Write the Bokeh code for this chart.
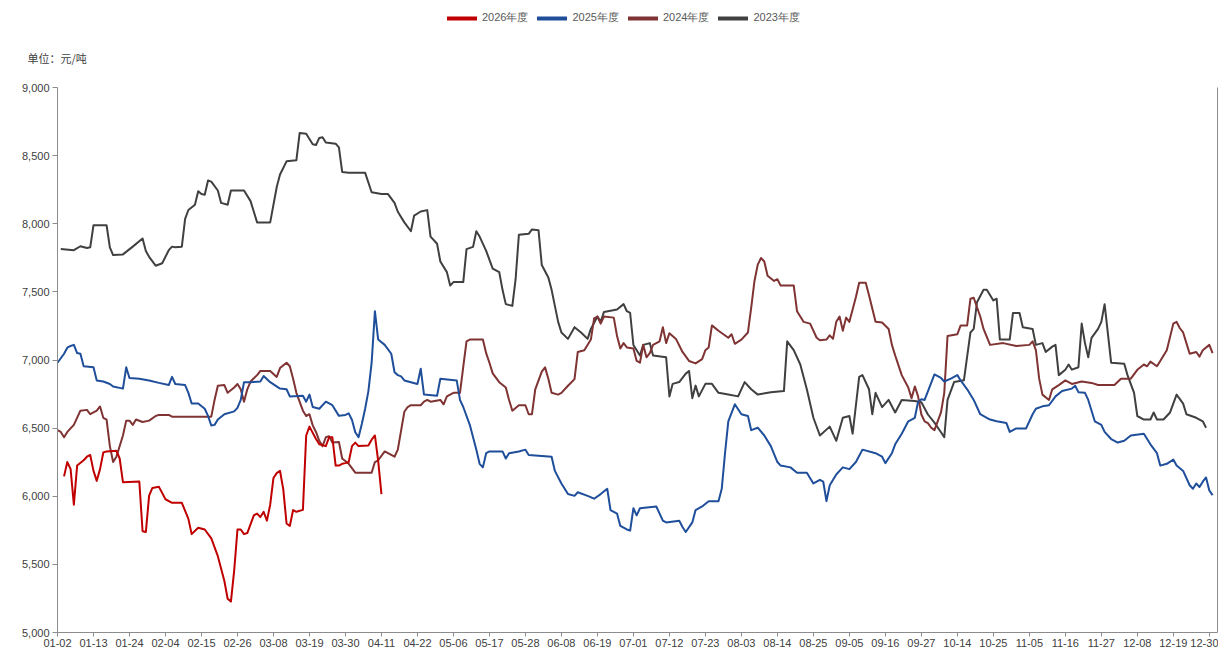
from bokeh.plotting import figure
from bokeh.models import (Range1d, FixedTicker, NumeralTickFormatter, Legend, LegendItem,
                          Label, LinearAxis)
from bokeh.embed import file_html
from bokeh.resources import INLINE

# ---------------- data ----------------
tick_labels = ["01-02", "01-13", "01-24", "02-04", "02-15", "02-26", "03-08", "03-19", "03-30",
               "04-11", "04-22", "05-06", "05-17", "05-28", "06-08", "06-19", "07-01", "07-12",
               "07-23", "08-03", "08-14", "08-25", "09-05", "09-16", "09-27", "10-14", "10-25",
               "11-05", "11-16", "11-27", "12-08", "12-19", "12-30"]
tick_step = 11  # categories between labelled ticks

series_names = ["2026年度", "2025年度", "2024年度", "2023年度"]
series_colors = ["#c00000", "#1f4e9a", "#7f3333", "#404040"]

x_2026 = [2, 3, 4, 5, 6, 8, 9, 10, 11, 12, 13, 14, 15, 18, 19, 20, 25, 26, 27, 28, 29, 31, 33, 35,
          38, 40, 41, 43, 45, 47, 49, 51, 52, 53, 54, 55, 56, 57, 58, 60, 61, 62, 63, 64, 65, 66,
          67, 68, 69, 70, 71, 72, 73, 75, 76, 77, 79, 80, 82, 83, 84, 85, 86, 87, 88, 89, 90, 91,
          92, 95, 96, 97, 98, 99]
y_2026 = [6146, 6251, 6200, 5938, 6225, 6264, 6290, 6303, 6186, 6113, 6199, 6321, 6329, 6334, 6277,
          6103, 6108, 5743, 5738, 6004, 6061, 6069, 5978, 5952, 5952, 5834, 5722, 5769, 5756, 5691,
          5560, 5378, 5248, 5227, 5456, 5756, 5756, 5722, 5730, 5860, 5873, 5847, 5886, 5821, 5938,
          6134, 6170, 6186, 6050, 5800, 5782, 5899, 5886, 5900, 6446, 6511, 6420, 6381, 6368, 6433,
          6433, 6225, 6225, 6238, 6243, 6251, 6368, 6394, 6368, 6373, 6415, 6446, 6260, 6016]

x_2025 = [0, 2, 3, 4, 5, 6, 7, 8, 11, 12, 14, 16, 17, 20, 21, 22, 25, 28, 31, 34, 35, 36, 39, 40,
          41, 43, 45, 46, 47, 48, 49, 51, 54, 55, 56, 57, 59, 62, 63, 65, 68, 70, 71, 75, 76, 77,
          78, 80, 82, 84, 86, 88, 89, 90, 91, 92, 93, 94, 95, 96, 97, 98, 100, 102, 103, 104, 105,
          106, 110, 111, 112, 116, 117, 122, 123, 124, 126, 128, 129, 130, 131, 132, 136, 137, 138,
          141, 143, 144, 151, 152, 154, 156, 158, 159, 162, 164, 166, 168, 169, 171, 172, 174, 175,
          176, 177, 178, 183, 185, 186, 190, 191, 192, 194, 195, 197, 199, 202, 203, 204, 205, 207,
          209, 211, 212, 214, 216, 218, 220, 221, 224, 226, 229, 231, 233, 234, 235, 236, 238, 239,
          240, 242, 244, 246, 250, 252, 253, 255, 256, 258, 260, 262, 263, 264, 265, 268, 270, 271,
          273, 275, 276, 278, 280, 282, 284, 285, 287, 290, 291, 293, 296, 298, 299, 301, 303, 305,
          307, 310, 311, 312, 314, 315, 317, 319, 320, 322, 324, 326, 328, 332, 334, 336, 337, 339,
          341, 342, 344, 346, 347, 348, 349, 350, 351, 352, 353]
y_2025 = [6980, 7046, 7090, 7103, 7111, 7051, 7046, 6954, 6946, 6850, 6842, 6824, 6806, 6790, 6946,
          6868, 6863, 6850, 6832, 6816, 6876, 6824, 6816, 6759, 6681, 6681, 6642, 6590, 6519, 6524,
          6563, 6602, 6623, 6649, 6707, 6837, 6837, 6842, 6882, 6837, 6790, 6785, 6733, 6738, 6694,
          6746, 6655, 6642, 6694, 6668, 6590, 6597, 6608, 6560, 6470, 6433, 6530, 6640, 6770, 6980,
          7358, 7150, 7111, 7046, 6910, 6889, 6880, 6850, 6824, 6936, 6746, 6738, 6863, 6850, 6707,
          6655, 6524, 6342, 6238, 6212, 6316, 6329, 6329, 6277, 6316, 6329, 6342, 6303, 6290, 6186,
          6094, 6016, 6003, 6029, 6003, 5982, 6016, 6055, 5899, 5873, 5782, 5756, 5748, 5912, 5860,
          5912, 5925, 5821, 5808, 5821, 5774, 5738, 5808, 5899, 5925, 5964, 5964, 6055, 6316, 6550,
          6675, 6602, 6589, 6485, 6503, 6446, 6368, 6251, 6225, 6212, 6173, 6173, 6094, 6121, 6108,
          5964, 6081, 6160, 6186, 6212, 6199, 6251, 6342, 6316, 6290, 6243, 6316, 6381, 6459, 6550,
          6576, 6694, 6712, 6707, 6894, 6868, 6842, 6863, 6889, 6850, 6785, 6707, 6602, 6576, 6563,
          6550, 6537, 6472, 6498, 6498, 6602, 6642, 6660, 6668, 6733, 6772, 6790, 6811, 6764, 6759,
          6707, 6550, 6524, 6472, 6420, 6394, 6407, 6446, 6459, 6381, 6316, 6225, 6238, 6269, 6225,
          6186, 6081, 6055, 6094, 6068, 6107, 6138, 6042, 6008]

x_2024 = [0, 1, 2, 3, 5, 7, 9, 10, 12, 13, 14, 15, 16, 17, 18, 20, 21, 22, 23, 24, 26, 28, 30, 31,
          34, 35, 47, 48, 49, 51, 52, 54, 55, 56, 57, 58, 59, 61, 62, 65, 67, 68, 70, 71, 72, 73,
          75, 76, 77, 78, 79, 80, 81, 82, 83, 84, 86, 87, 89, 91, 96, 97, 98, 100, 101, 103, 104,
          106, 107, 108, 111, 112, 113, 114, 117, 118, 119, 121, 123, 124, 125, 126, 130, 131, 132,
          133, 135, 137, 138, 139, 141, 143, 144, 145, 146, 148, 149, 150, 151, 153, 154, 156, 158,
          159, 161, 163, 164, 165, 166, 167, 170, 171, 172, 173, 174, 176, 177, 178, 179, 180, 181,
          182, 183, 184, 185, 186, 187, 189, 191, 193, 195, 197, 198, 199, 200, 202, 205, 206, 207,
          209, 211, 212, 213, 214, 215, 216, 217, 219, 220, 221, 225, 226, 228, 230, 232, 233, 235,
          236, 237, 238, 239, 240, 241, 242, 244, 245, 247, 248, 250, 252, 254, 255, 256, 258, 260,
          261, 262, 263, 264, 265, 266, 267, 268, 270, 271, 272, 275, 276, 278, 279, 280, 282, 283,
          285, 289, 293, 297, 298, 299, 300, 301, 303, 304, 306, 308, 310, 313, 316, 318, 323, 325,
          328, 330, 332, 333, 334, 336, 337, 339, 341, 342, 343, 344, 345, 346, 348, 349, 350, 352,
          353]
y_2024 = [6485, 6472, 6433, 6472, 6524, 6628, 6634, 6602, 6628, 6659, 6576, 6563, 6368, 6251, 6290,
          6446, 6555, 6555, 6524, 6563, 6545, 6555, 6589, 6597, 6597, 6584, 6584, 6707, 6811, 6816,
          6759, 6798, 6824, 6785, 6694, 6785, 6842, 6889, 6920, 6920, 6876, 6941, 6980, 6954, 6863,
          6759, 6628, 6589, 6602, 6520, 6472, 6407, 6368, 6433, 6441, 6394, 6399, 6277, 6238, 6173,
          6173, 6251, 6264, 6329, 6316, 6290, 6342, 6620, 6655, 6668, 6668, 6694, 6707, 6694, 6707,
          6675, 6733, 6759, 6759, 6950, 7137, 7150, 7150, 7050, 6980, 6902, 6837, 6798, 6707, 6628,
          6668, 6668, 6602, 6602, 6785, 6915, 6946, 6863, 6759, 6746, 6759, 6811, 6860, 7059, 7072,
          7150, 7306, 7319, 7267, 7319, 7311, 7176, 7085, 7124, 7092, 7085, 6993, 6980, 7111, 7020,
          7050, 7111, 7124, 7137, 7241, 7124, 7197, 7155, 7059, 6993, 6975, 7007, 7072, 7092, 7254,
          7215, 7163, 7189, 7119, 7150, 7202, 7384, 7580, 7700, 7749, 7723, 7619, 7580, 7593, 7546,
          7546, 7358, 7280, 7267, 7163, 7145, 7150, 7181, 7155, 7280, 7319, 7215, 7311, 7280, 7462,
          7567, 7567, 7476, 7280, 7275, 7228, 7111, 7033, 6889, 6798, 6720, 6806, 6733, 6600, 6550,
          6537, 6503, 6485, 6615, 6759, 7176, 7189, 7254, 7254, 7450, 7457, 7319, 7228, 7111, 7124,
          7103, 7111, 7137, 7072, 6863, 6746, 6707, 6785, 6816, 6850, 6824, 6842, 6832, 6816, 6816,
          6863, 6863, 6928, 6967, 6954, 6988, 6954, 6993, 7072, 7267, 7280, 7233, 7202, 7124, 7046,
          7059, 7025, 7072, 7111, 7051]

x_2023 = [1, 5, 7, 9, 10, 11, 15, 16, 17, 20, 23, 26, 27, 28, 30, 32, 34, 35, 36, 38, 39, 40, 42,
          43, 44, 45, 46, 47, 49, 50, 52, 53, 57, 59, 60, 61, 65, 67, 68, 70, 73, 74, 76, 78, 79,
          80, 81, 82, 85, 86, 87, 89, 94, 96, 99, 101, 103, 104, 106, 108, 109, 111, 113, 114, 116,
          117, 119, 120, 121, 124, 125, 127, 128, 129, 131, 133, 135, 136, 137, 139, 140, 141, 144,
          145, 147, 148, 150, 151, 153, 154, 156, 158, 160, 162, 163, 165, 166, 167, 171, 173, 174,
          175, 176, 178, 179, 181, 182, 186, 187, 188, 190, 192, 193, 194, 195, 196, 198, 200, 202,
          205, 208, 210, 212, 214, 218, 222, 223, 225, 227, 229, 231, 233, 236, 238, 240, 242, 243,
          245, 246, 248, 249, 250, 252, 254, 256, 258, 262, 264, 266, 268, 270, 271, 272, 274, 277,
          279, 280, 281, 283, 284, 286, 287, 288, 291, 292, 294, 295, 298, 299, 301, 302, 304, 305,
          306, 308, 309, 310, 312, 313, 314, 315, 316, 318, 319, 320, 322, 326, 327, 329, 330, 332,
          334, 335, 336, 338, 340, 342, 344, 345, 348, 350, 351]
y_2023 = [7814, 7806, 7835, 7822, 7827, 7989, 7989, 7827, 7770, 7775, 7832, 7892, 7800, 7757, 7692,
          7710, 7806, 7832, 7827, 7832, 8036, 8101, 8140, 8239, 8218, 8213, 8317, 8309, 8244, 8153,
          8140, 8244, 8244, 8166, 8088, 8010, 8010, 8270, 8361, 8458, 8466, 8666, 8661, 8583, 8578,
          8630, 8635, 8596, 8588, 8560, 8380, 8375, 8375, 8231, 8218, 8218, 8153, 8088, 8010, 7945,
          8060, 8090, 8100, 7906, 7853, 7723, 7645, 7546, 7572, 7572, 7814, 7830, 7945, 7906, 7801,
          7671, 7645, 7515, 7410, 7397, 7593, 7919, 7926, 7958, 7952, 7697, 7606, 7515, 7280, 7202,
          7155, 7241, 7202, 7155, 7228, 7319, 7280, 7353, 7371, 7410, 7358, 7345, 7110, 7033, 7111,
          7124, 7033, 7020, 6733, 6825, 6838, 6900, 6920, 6720, 6812, 6733, 6825, 6825, 6759, 6746,
          6733, 6838, 6785, 6746, 6764, 6772, 7137, 7072, 6967, 6785, 6576, 6446, 6511, 6407, 6576,
          6589, 6459, 6876, 6889, 6785, 6602, 6759, 6654, 6707, 6615, 6707, 6699, 6690, 6600, 6540,
          6470, 6433, 6707, 6838, 6851, 7202, 7228, 7424, 7515, 7515, 7437, 7450, 7150, 7150, 7345,
          7345, 7241, 7228, 7111, 7124, 7059, 7098, 7111, 6889, 6929, 6967, 6929, 6947, 7267, 7124,
          7020, 7163, 7228, 7280, 7410, 6980, 6973, 6889, 6759, 6589, 6563, 6563, 6615, 6563, 6563,
          6615, 6746, 6680, 6602, 6576, 6550, 6503, 6503]

series_x = [x_2026, x_2025, x_2024, x_2023]
series_y = [y_2026, y_2025, y_2024, y_2023]

y_min, y_max, y_step = 5000, 9000, 500
unit_text = "单位：元/吨"

# ---------------- layout geometry (picture pixels of the reference) ----------------
W, H, OFF = 1218, 649, 0
AX_L, AX_R, AX_T, AX_B = 57, 1217, 87, 632          # axis box in the picture
n_cat = tick_step * (len(tick_labels) - 1)
x_end = n_cat + 2.5
sx = (AX_R - AX_L) / x_end                           # px per category
sy = (AX_B - AX_T) / (y_max - y_min)                 # px per unit
x0 = -(AX_L - OFF) / sx
x1 = x_end + (OFF + W - AX_R) / sx
y1 = y_max + (AX_T - OFF) / sy
y0 = y_min - (OFF + H - AX_B) / sy

AX_FONT = "Liberation Sans"
TXT = "#404040"
AXC = "#8c8c8c"

p = figure(width=W, height=H, output_backend="svg", toolbar_location=None,
           x_range=Range1d(x0, x1), y_range=Range1d(y0, y1),
           min_border=0, min_border_left=0, min_border_right=0,
           min_border_top=0, min_border_bottom=0)
p.outline_line_color = None
p.xgrid.visible = False
p.ygrid.visible = False
p.background_fill_color = "white"
p.border_fill_color = "white"

ticks = [i * tick_step for i in range(len(tick_labels))]
p.xaxis.ticker = FixedTicker(ticks=ticks)
p.xaxis.major_label_overrides = {t: lab for t, lab in zip(ticks, tick_labels)}
p.xaxis.fixed_location = y_min
p.xaxis.bounds = (0, x_end)
p.yaxis.ticker = FixedTicker(ticks=list(range(y_min, y_max + 1, y_step)))
p.yaxis.formatter = NumeralTickFormatter(format="0,0")
p.yaxis.fixed_location = 0
p.yaxis.bounds = (y_min, y_max)
for ax in (p.xaxis, p.yaxis):
    ax.axis_line_color = AXC
    ax.major_tick_line_color = AXC
    ax.major_tick_in = 0
    ax.major_tick_out = 5
    ax.minor_tick_line_color = None
    ax.major_label_text_font = AX_FONT
    ax.major_label_text_font_size = "11px"
    ax.major_label_text_color = TXT
    ax.major_label_standoff = 3
p.xaxis.major_tick_out = 4
p.xaxis.major_label_standoff = 2

# right frame line (an axis without ticks)
rax = LinearAxis(fixed_location=x_end, bounds=(y_min, y_max), ticker=FixedTicker(ticks=[]),
                 axis_line_color=AXC, major_tick_line_color=None, minor_tick_line_color=None,
                 major_label_text_alpha=0)
p.add_layout(rax, "right")

# series lines (older first, so newer sit on top)
for xs, ys, col in reversed(list(zip(series_x, series_y, series_colors))):
    p.line(xs, ys, line_color=col, line_width=2, line_join="round")

# legend with thicker samples
items = []
nan = float("nan")
for name, col in zip(series_names, series_colors):
    r = p.line([nan], [nan], line_color=col, line_width=4, line_cap="round")
    items.append(LegendItem(label=name, renderers=[r]))
legend = Legend(items=items, orientation="horizontal",
                location=(447 - OFF, OFF + H - 25),
                glyph_width=30, glyph_height=12, label_standoff=5, spacing=9,
                padding=0, margin=0, border_line_color=None, background_fill_alpha=0,
                label_text_font=AX_FONT, label_text_font_size="11px", label_text_color="#595959",
                label_height=12)
p.add_layout(legend, "center")

# unit label
p.add_layout(Label(x=(27 - AX_L) / sx, y=y_max + (AX_T - 57) / sy, text=unit_text,
                   text_font="Noto Sans CJK SC", text_font_size="11px", text_color=TXT,
                   text_baseline="middle"))

open("out.html", "w").write(file_html(p, INLINE))
